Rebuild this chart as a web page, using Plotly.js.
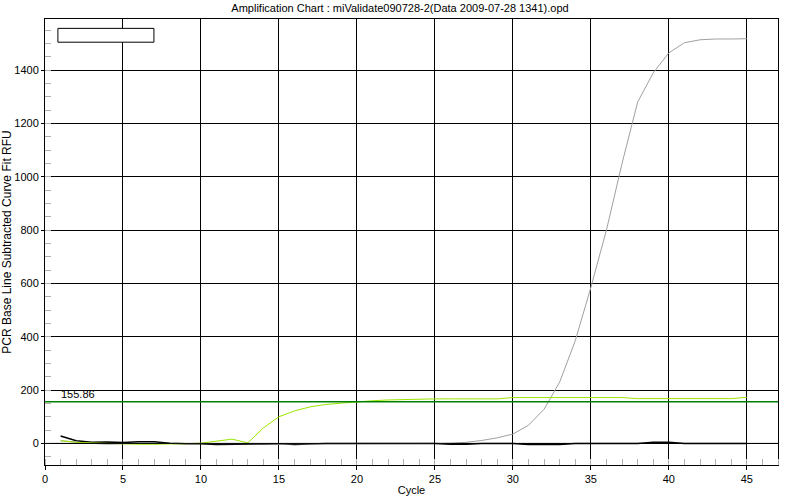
<!DOCTYPE html>
<html>
<head>
<meta charset="utf-8">
<script src="https://cdn.plot.ly/plotly-3.0.1.min.js"></script>
<style>html,body{margin:0;padding:0;background:#fff;}#chart{width:800px;height:500px;}</style>
</head>
<body>
<div id="chart"></div>
<script>
// Cycle numbers
const cycles = [1,2,3,4,5,6,7,8,9,10,11,12,13,14,15,16,17,18,19,20,21,22,23,24,25,26,27,28,29,30,31,32,33,34,35,36,37,38,39,40,41,42,43,44,45];
// Black well (near baseline)
const blackRFU = [28,10,4,5,3,6,6,1,-1,-1,-4,-3,-4,-2,-1,-4,-1,0,0,0,0,0,0,0,0,-3,-3,0,0,0,-4,-4,-4,0,0,0,0,0,4,4,0,0,0,0,0];
// Gray well (amplifying late)
const grayRFU = [10,4,0,-3,-1,0,0,0,0,0,0,0,0,-1,-3,-1,-2,-2,-2,-2,-2,-2,-2,-1,0,1,4,11,21,35,68,128,230,385,585,800,1050,1280,1390,1465,1503,1514,1517,1517,1518];
// Lime well
const limeRFU = [10,4,2,0,-1,-3,-3,-3,-1,1,8,16,2,58,100,122,137,146,151,156,160,163,165,167,167,167,167,167,167,172,172,172,172,172,172,172,172,168,168,168,168,168,168,168,173];
// Threshold
const threshold = 155.86;
const thresholdLabel = "155.86";
const xTicks = [0,5,10,15,20,25,30,35,40,45];
const yTicks = [0,200,400,600,800,1000,1200,1400];

const font = "Liberation Sans, Arial, sans-serif";

const traces = [
  {x: cycles, y: blackRFU, type: 'scatter', mode: 'lines', line: {color: '#000000', width: 1.5}, hoverinfo: 'skip'},
  {x: cycles, y: grayRFU, type: 'scatter', mode: 'lines', line: {color: '#a0a0a0', width: 1}, hoverinfo: 'skip'},
  {x: cycles, y: limeRFU, type: 'scatter', mode: 'lines', line: {color: '#99e600', width: 1}, hoverinfo: 'skip'}
];

const layout = {
  width: 800, height: 500,
  margin: {l: 45, r: 22, t: 19, b: 35},
  paper_bgcolor: '#ffffff', plot_bgcolor: '#ffffff',
  showlegend: false,
  font: {family: font, size: 11, color: '#000'},
  title: {text: 'Amplification Chart : miValidate090728-2(Data 2009-07-28 1341).opd', font: {family: font, size: 11, color: '#000'}, x: 0.5, xanchor: 'center', y: 0.984, yanchor: 'middle', yref: 'container'},
  xaxis: {
    range: [0, 47], tickvals: xTicks, ticktext: xTicks.map(String),
    showgrid: true, gridcolor: '#000', gridwidth: 1, zeroline: false,
    showline: true, linecolor: '#000', linewidth: 1, mirror: true,
    ticks: 'outside', ticklen: 4, tickcolor: '#000',
    minor: {dtick: 1, tick0: 0, ticks: 'inside', ticklen: 6, tickcolor: '#b0b0b0', showgrid: false},
    tickfont: {family: font, size: 11, color: '#000'},
    title: {text: 'Cycle', font: {family: font, size: 11, color: '#000'}, standoff: 2},
    automargin: false, fixedrange: true
  },
  yaxis: {
    range: [-81, 1592], tickvals: yTicks, ticktext: yTicks.map(String),
    showgrid: true, gridcolor: '#000', gridwidth: 1, zeroline: false,
    showline: true, linecolor: '#000', linewidth: 1, mirror: true,
    ticks: 'outside', ticklen: 3, tickcolor: '#000',
    minor: {dtick: 50, tick0: 0, ticks: 'inside', ticklen: 6, tickcolor: '#b0b0b0', showgrid: false},
    tickfont: {family: font, size: 11, color: '#000'},
    title: {text: 'PCR Base Line Subtracted Curve Fit RFU', font: {family: font, size: 12, color: '#000'}, standoff: 4},
    automargin: false, fixedrange: true
  },
  shapes: [
    {type: 'line', xref: 'paper', x0: 0, x1: 1, yref: 'y', y0: 0, y1: 0, line: {color: '#000', width: 1}, layer: 'above'},
    {type: 'line', xref: 'paper', x0: 0, x1: 1, yref: 'y', y0: threshold, y1: threshold, line: {color: '#008000', width: 1.5}, layer: 'above'},
    {type: 'rect', xref: 'paper', x0: 0.0176, x1: 0.1486, yref: 'paper', y0: 0.948, y1: 0.979, line: {color: '#000', width: 1}, fillcolor: '#ffffff', layer: 'above'}
  ],
  annotations: [
    {x: 0.9, y: threshold, xref: 'x', yref: 'y', text: thresholdLabel, showarrow: false, xanchor: 'left', yanchor: 'bottom', font: {family: font, size: 11, color: '#000'}, yshift: 0}
  ]
};

Plotly.newPlot('chart', traces, layout, {staticPlot: true, displayModeBar: false});
</script>
</body>
</html>
